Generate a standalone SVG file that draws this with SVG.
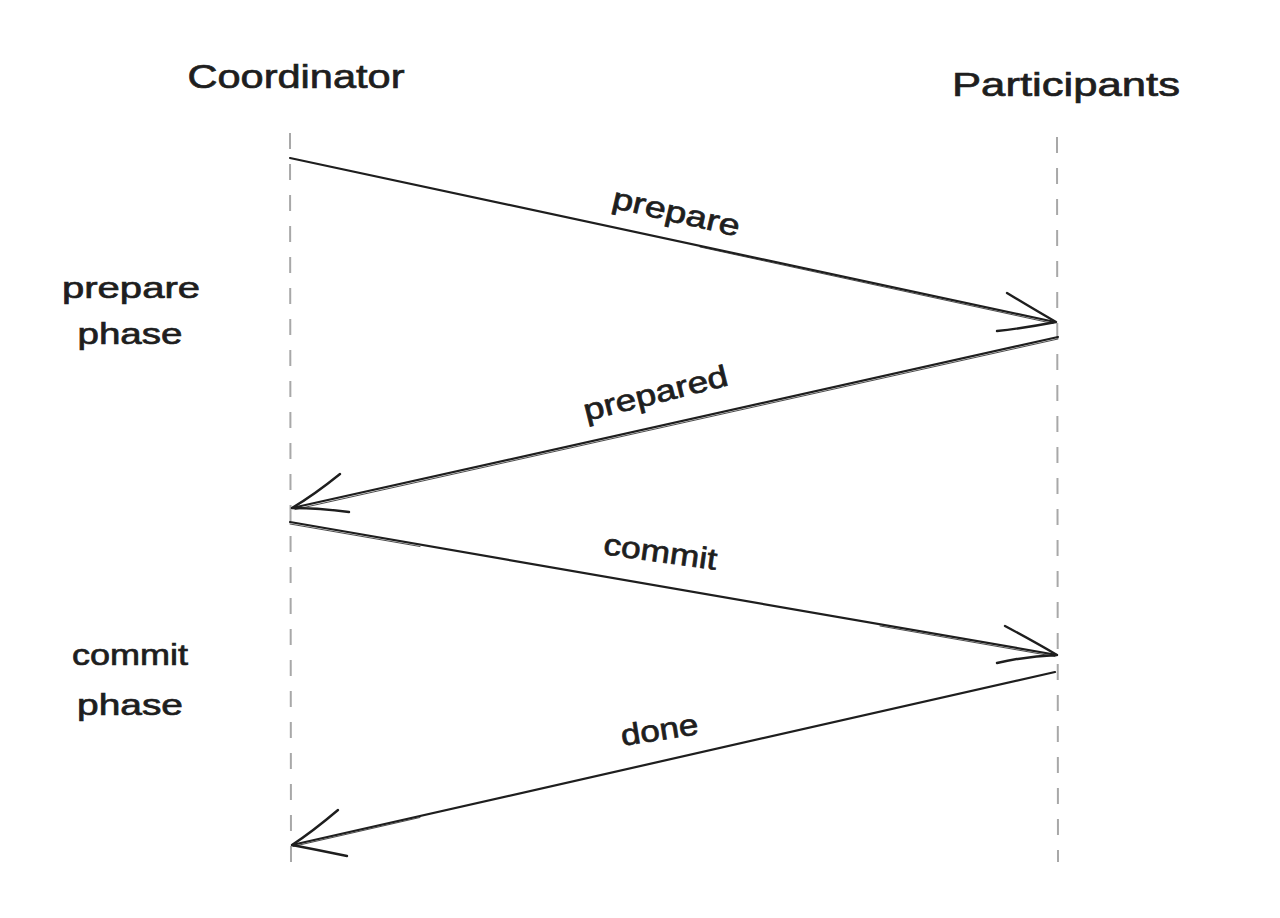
<svg xmlns="http://www.w3.org/2000/svg" width="1280" height="918" viewBox="0 0 1280 918">
  <style>
    .bg { fill: #ffffff; }
    .life { stroke: #a8a8a8; stroke-width: 2; stroke-dasharray: 16 15; fill: none; }
    .msg { stroke: #1e1e1e; stroke-width: 2.2; fill: none; stroke-linecap: round; stroke-linejoin: round; }
    .msg2 { stroke: #1e1e1e; stroke-width: 1; fill: none; stroke-linecap: round; opacity: 0.8; }
    .head { stroke: #1e1e1e; stroke-width: 2.4; fill: none; stroke-linecap: round; stroke-linejoin: round; }
    .t { font-family: "Liberation Sans", "Noto Sans", Arial, sans-serif; fill: #1e1e1e; stroke: #1e1e1e; stroke-width: 0.7; }
    .hdr { font-size: 34px; }
    .lbl { font-size: 30px; }
  </style>
  <rect class="bg" x="0" y="0" width="1280" height="918"/>

  <g id="lifelines">
    <line class="life" x1="290" y1="133" x2="291" y2="862"/>
    <line class="life" x1="1057" y1="137" x2="1058" y2="862"/>
  </g>

  <g id="node-coordinator">
    <text class="t hdr" x="296" y="88" text-anchor="middle" textLength="217" lengthAdjust="spacingAndGlyphs">Coordinator</text>
  </g>
  <g id="node-participants">
    <text class="t hdr" x="1066" y="96" text-anchor="middle" textLength="228" lengthAdjust="spacingAndGlyphs">Participants</text>
  </g>

  <g id="node-prepare-phase">
    <text class="t lbl" x="131" y="298" text-anchor="middle" textLength="138" lengthAdjust="spacingAndGlyphs">prepare</text>
    <text class="t lbl" x="130" y="344" text-anchor="middle" textLength="105" lengthAdjust="spacingAndGlyphs">phase</text>
  </g>
  <g id="node-commit-phase">
    <text class="t lbl" x="130" y="665" text-anchor="middle" textLength="116" lengthAdjust="spacingAndGlyphs">commit</text>
    <text class="t lbl" x="130" y="715" text-anchor="middle" textLength="106" lengthAdjust="spacingAndGlyphs">phase</text>
  </g>

  <g id="connectors">
    <g id="msg-prepare">
      <path class="msg" d="M290,158 L1055,322"/>
      <path class="msg2" d="M700,247 L1053,323.5"/>
      <path class="head" d="M1007,293 Q1035,310 1056,322 Q1025,328 997,331"/>
    </g>
    <g id="msg-prepared">
      <path class="msg" d="M1058,337 L292,508"/>
      <path class="msg2" d="M1058,339 L295,509.5"/>
      <path class="head" d="M340,474 Q314,495 292,508 Q320,508 349,512"/>
    </g>
    <g id="msg-commit">
      <path class="msg" d="M290,522 L1057,655"/>
      <path class="msg2" d="M290,524 L420,546.5"/>
      <path class="msg2" d="M880,626 L1055,656.5"/>
      <path class="head" d="M1005,626 Q1035,642 1057,655 Q1027,656 997,663"/>
    </g>
    <g id="msg-done">
      <path class="msg" d="M1055,672 L292,845"/>
      <path class="msg2" d="M420,817.5 L293,846.5"/>
      <path class="head" d="M338,810 Q312,832 292,845 Q318,850 347,856"/>
    </g>
  </g>

  <g id="labels">
    <text class="t lbl" x="0" y="0" text-anchor="middle" textLength="130" lengthAdjust="spacingAndGlyphs" transform="translate(674,222) rotate(13)">prepare</text>
    <text class="t lbl" x="0" y="0" text-anchor="middle" textLength="148" lengthAdjust="spacingAndGlyphs" transform="translate(658,403) rotate(-14)">prepared</text>
    <text class="t lbl" x="0" y="0" text-anchor="middle" textLength="114" lengthAdjust="spacingAndGlyphs" transform="translate(659,562) rotate(8)">commit</text>
    <text class="t lbl" x="0" y="0" text-anchor="middle" textLength="78" lengthAdjust="spacingAndGlyphs" transform="translate(661,740) rotate(-9)">done</text>
  </g>
</svg>
